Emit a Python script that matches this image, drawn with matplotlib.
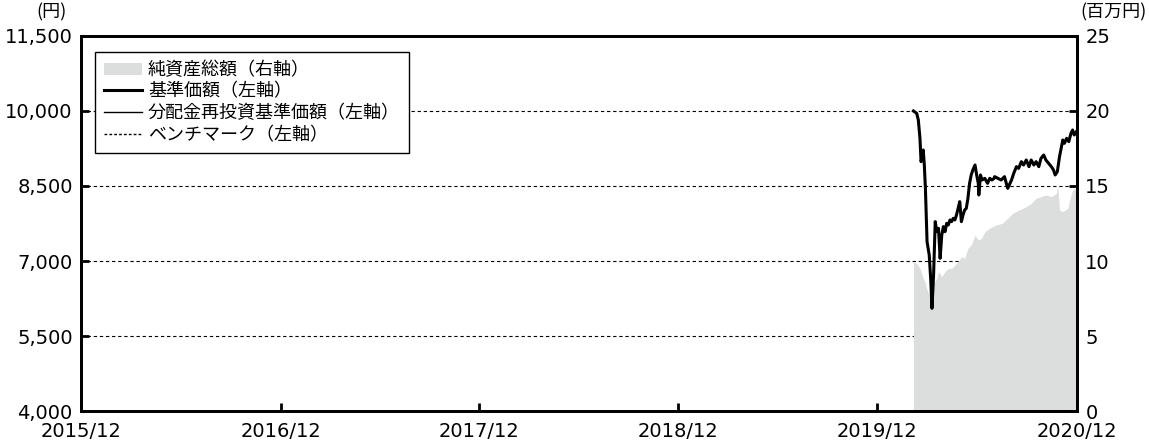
import matplotlib
matplotlib.use("Agg")
import matplotlib.pyplot as plt
from matplotlib.patches import Patch
from matplotlib.lines import Line2D
import pandas as pd

plt.rcParams["font.family"] = ["Noto Sans CJK JP", "DejaVu Sans"]

# 基準価額 (円)
nav_dates = [
    "2020-03-06", "2020-03-12", "2020-03-15", "2020-03-18", "2020-03-20", "2020-03-22",
    "2020-03-24", "2020-03-26", "2020-03-28", "2020-03-31", "2020-04-04", "2020-04-07",
    "2020-04-09", "2020-04-12", "2020-04-15", "2020-04-18", "2020-04-21", "2020-04-24",
    "2020-04-27", "2020-04-30", "2020-05-03", "2020-05-06", "2020-05-09", "2020-05-12",
    "2020-05-15", "2020-05-18", "2020-05-21", "2020-05-24", "2020-05-27", "2020-05-30",
    "2020-06-02", "2020-06-05", "2020-06-08", "2020-06-11", "2020-06-14", "2020-06-17",
    "2020-06-20", "2020-06-23", "2020-06-27", "2020-06-30", "2020-07-03", "2020-07-04",
    "2020-07-07", "2020-07-10", "2020-07-15", "2020-07-20", "2020-07-24", "2020-07-28",
    "2020-08-01", "2020-08-02", "2020-08-08", "2020-08-14", "2020-08-20", "2020-08-26",
    "2020-09-02", "2020-09-06", "2020-09-11", "2020-09-15", "2020-09-20", "2020-09-24",
    "2020-09-29", "2020-10-04", "2020-10-08", "2020-10-13", "2020-10-17", "2020-10-22",
    "2020-10-26", "2020-10-31", "2020-11-04", "2020-11-09", "2020-11-14", "2020-11-18",
    "2020-11-21", "2020-11-25", "2020-11-29", "2020-12-02", "2020-12-05", "2020-12-08",
    "2020-12-12", "2020-12-16", "2020-12-20", "2020-12-23", "2020-12-26", "2020-12-30",
]
nav_values = [
    10000, 9953, 9820, 9453, 8987, 9087,
    9220, 8920, 8453, 7387, 7120, 6587,
    6053, 6720, 7787, 7587, 7653, 7053,
    7520, 7687, 7587, 7753, 7720, 7820,
    7787, 7853, 7820, 7920, 8053, 8187,
    7787, 7920, 8020, 8053, 8253, 8553,
    8720, 8820, 8920, 8720, 8553, 8320,
    8720, 8620, 8653, 8553, 8653, 8620,
    8653, 8687, 8653, 8620, 8687, 8453,
    8620, 8753, 8887, 8853, 8987, 8920,
    9020, 8887, 9020, 8920, 8987, 8887,
    9053, 9120, 9020, 8953, 8887, 8820,
    8720, 8787, 9087, 9253, 9420, 9353,
    9453, 9387, 9553, 9620, 9520, 9587,
]
# 分配金再投資基準価額 (分配なしのため基準価額と同じ)
reinvest_values = list(nav_values)

# 純資産総額 (百万円)
aum_dates = [
    "2020-03-06", "2020-03-12", "2020-03-18", "2020-03-24", "2020-03-27", "2020-03-30",
    "2020-04-04", "2020-04-08", "2020-04-11", "2020-04-18", "2020-04-21", "2020-04-27",
    "2020-05-03", "2020-05-09", "2020-05-15", "2020-05-21", "2020-05-27", "2020-06-02",
    "2020-06-08", "2020-06-14", "2020-06-20", "2020-06-27", "2020-07-03", "2020-07-09",
    "2020-07-15", "2020-07-24", "2020-08-04", "2020-08-16", "2020-08-26", "2020-09-04",
    "2020-09-16", "2020-09-29", "2020-10-08", "2020-10-17", "2020-10-26", "2020-11-04",
    "2020-11-14", "2020-11-23", "2020-11-26", "2020-11-29", "2020-12-05", "2020-12-14",
    "2020-12-20", "2020-12-23", "2020-12-30",
]
aum_values = [
    9.95, 9.84, 9.5, 8.85, 8.62, 8.18,
    7.73, 7.9, 8.4, 8.85, 9.29, 8.96,
    9.29, 9.5, 9.5, 9.73, 9.95, 10.29,
    10.18, 10.85, 11.07, 11.73, 11.4, 11.51,
    11.95, 12.18, 12.4, 12.51, 12.85, 13.18,
    13.4, 13.62, 13.84, 14.18, 14.29, 14.4,
    14.29, 14.51, 14.95, 13.4, 13.29, 13.51,
    14.4, 14.73, 14.84,
]

left_ticks = [4000, 5500, 7000, 8500, 10000, 11500]
right_ticks = [0, 5, 10, 15, 20, 25]
x_ticks = ["2015-12-31", "2016-12-31", "2017-12-31", "2018-12-31", "2019-12-31", "2020-12-31"]
x_labels = ["2015/12", "2016/12", "2017/12", "2018/12", "2019/12", "2020/12"]

nav_x = pd.to_datetime(nav_dates)
aum_x = pd.to_datetime(aum_dates)

fig = plt.figure(figsize=(11.49, 4.41), dpi=100)
ax = fig.add_axes([0.0705, 0.068, 0.8668, 0.8504])
ax2 = ax.twinx()
ax.set_zorder(ax2.get_zorder() + 1)
ax.patch.set_visible(False)

fill_color = "#dcdddd"
ax2.fill_between(aum_x, 0, aum_values, color=fill_color, linewidth=0, zorder=1)
ax2.set_axisbelow(True)
ax2.yaxis.grid(True, color="black", linestyle=(0, (3, 2.5)), linewidth=0.8)

ax.plot(nav_x, reinvest_values, color="black", linewidth=1.0)
ax.plot(nav_x, nav_values, color="black", linewidth=2.2)

ax.set_xlim(pd.Timestamp(x_ticks[0]), pd.Timestamp(x_ticks[-1]))
ax.set_ylim(left_ticks[0], left_ticks[-1])
ax2.set_ylim(right_ticks[0], right_ticks[-1])

tick_font = {"family": "DejaVu Sans", "size": 14}
ax.set_xticks(pd.to_datetime(x_ticks))
ax.set_xticklabels(x_labels, fontdict=tick_font)
ax.set_yticks(left_ticks)
ax.set_yticklabels([f"{v:,}" for v in left_ticks], fontdict=tick_font)
ax2.set_yticks(right_ticks)
ax2.set_yticklabels([str(v) for v in right_ticks], fontdict=tick_font)

ax.tick_params(axis="both", direction="in", length=6, width=2, colors="black")
ax.tick_params(axis="y", pad=6)
ax.tick_params(axis="x", pad=8)
ax2.tick_params(axis="y", direction="in", length=6, width=2, pad=6)

for a in (ax, ax2):
    for s in a.spines.values():
        s.set_linewidth(2)
        s.set_color("black")

fig.text(52 / 1149, 1 - 12 / 441, "(円)", ha="center", va="center", fontsize=13)
fig.text(1147 / 1149, 1 - 12 / 441, "(百万円)", ha="right", va="center", fontsize=13)

handles = [
    Patch(facecolor=fill_color, edgecolor="none"),
    Line2D([], [], color="black", linewidth=2.2),
    Line2D([], [], color="black", linewidth=1.0),
    Line2D([], [], color="black", linewidth=1.0, linestyle=(0, (2, 1.5))),
]
labels = ["純資産総額（右軸）", "基準価額（左軸）", "分配金再投資基準価額（左軸）", "ベンチマーク（左軸）"]
leg = ax.legend(handles, labels, loc="upper left", bbox_to_anchor=(0.014, 0.957),
                borderaxespad=0, fontsize=13, frameon=True, fancybox=False,
                framealpha=1, edgecolor="black", handlelength=2.1, handletextpad=0.33,
                labelspacing=0.2, borderpad=0.5)
leg.get_frame().set_linewidth(1.0)

fig.savefig("out.png", dpi=100)
